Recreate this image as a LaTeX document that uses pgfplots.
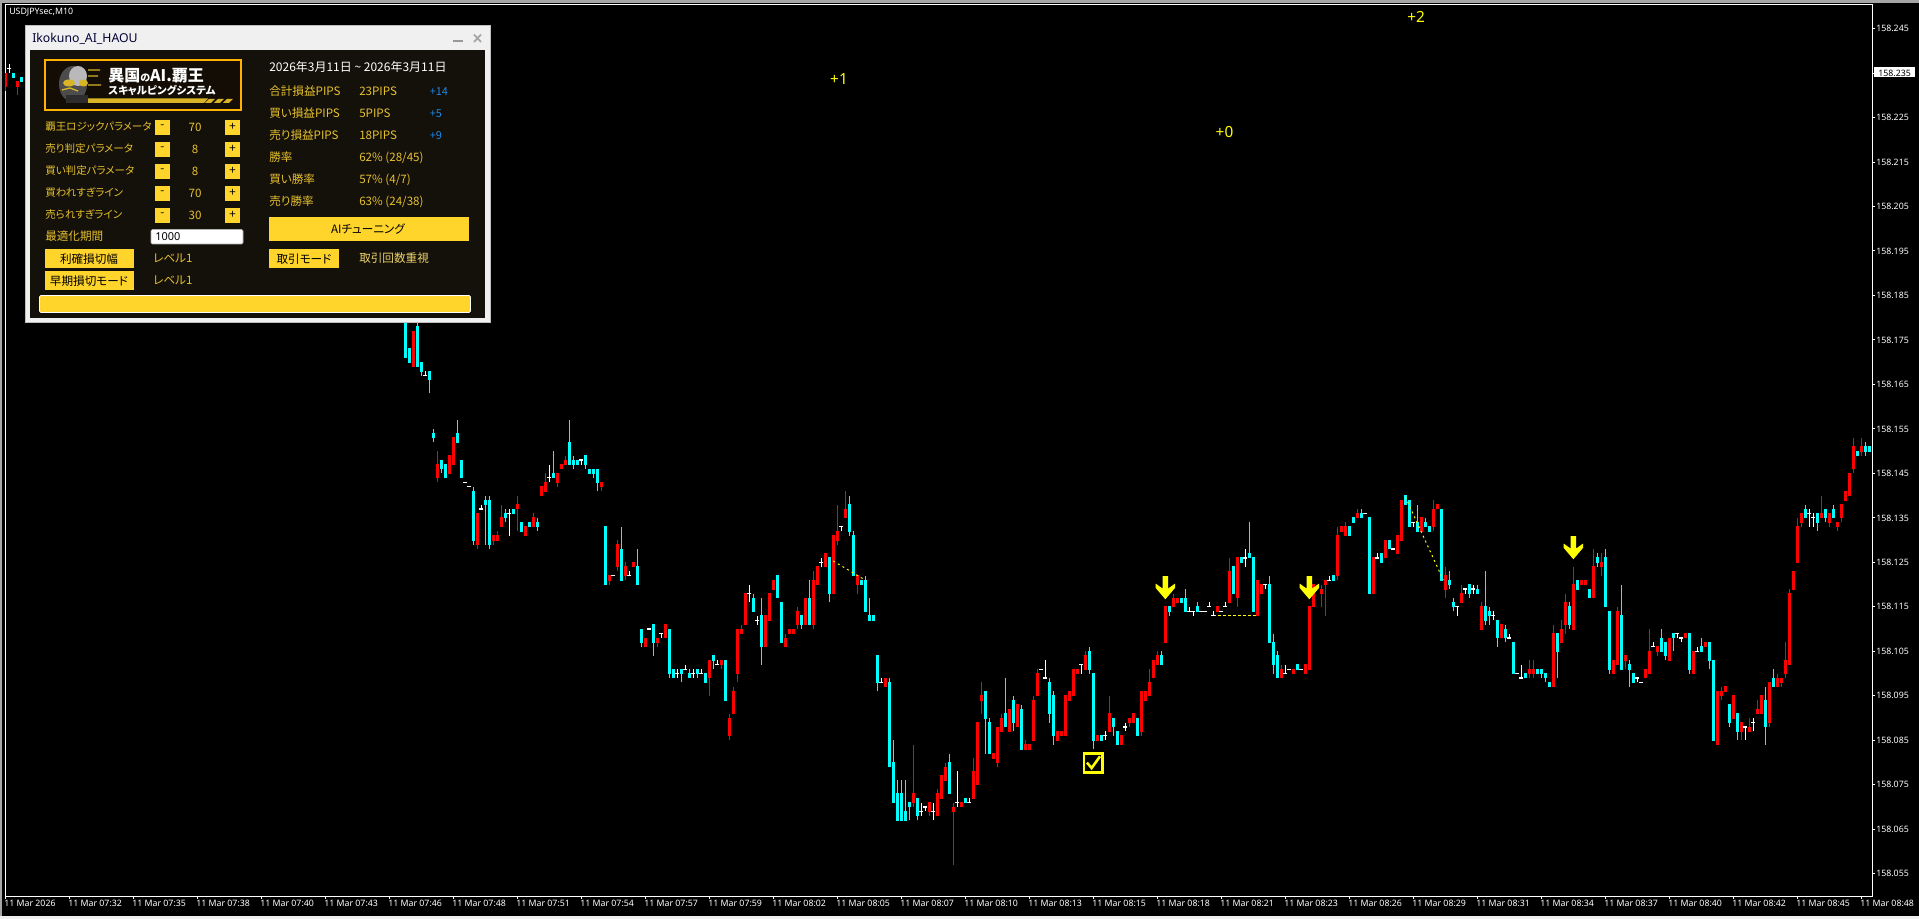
\documentclass[border=0pt]{standalone}
\usepackage{fontspec}
\usepackage{pgfplots}
\usepackage{pgfplotstable}
\pgfplotsset{compat=1.18}
\setmainfont{Noto Sans}
\newfontfamily\cjk[RawFeature={+palt}]{Noto Sans CJK JP}

\definecolor{upbar}{HTML}{FF0000}
\definecolor{downbar}{HTML}{00FFFF}
\definecolor{signal}{HTML}{FFFF00}
\definecolor{gold}{HTML}{FFD42B}
\definecolor{goldtext}{HTML}{E6C22E}
\definecolor{paneldark}{HTML}{14100A}
\definecolor{panelline}{HTML}{F0F0F0}
\definecolor{plusblue}{HTML}{1E88E5}

% prices are in thousandths above 158 (173 is 158.173): x, body low, body high, wick low, wick high
\pgfplotstableread{
x lo hi wl wh
0 232 235 231 235
3 232 233 230 233
102 169 177 169 177
108 144 147 143 150
111 145 149 145 149
112 147 153 147 153
118 129 136 128 136
122 130 131 129 131
123 130 131 130 132
124 133 135 133 138
128 137 138 132 140
130 131 133 131 133
132 133 135 133 136
134 140 142 140 142
135 141 143 141 145
138 143 145 142 145
139 146 147 146 147
140 147 148 147 149
149 142 143 141 143
151 121 122 120 122
153 124 129 123 130
155 122 124 121 125
157 124 125 124 125
160 106 108 106 108
163 107 108 106 108
165 108 111 108 111
176 99 103 95 103
179 102 103 101 103
181 86 90 85 91
182 91 96 91 97
183 100 110 98 110
184 109 110 109 111
185 111 118 111 118
190 106 113 106 113
191 112 118 112 118
192 119 121 119 121
195 106 108 106 109
196 109 110 109 110
197 109 110 109 110
198 111 114 110 115
200 111 117 111 117
202 111 121 110 123
203 120 124 120 124
205 124 127 124 127
207 118 131 118 131
208 130 132 129 138
210 135 137 135 141
213 120 122 118 122
220 97 99 97 99
227 71 73 70 84
231 69 71 68 71
233 68 73 68 74
234 72 77 72 77
235 76 79 76 80
237 69 70 57 71
239 70 71 70 71
242 72 78 72 81
243 75 89 75 89
244 94 95 91 98
247 81 82 81 82
248 80 88 79 88
249 87 90 87 91
251 87 92 87 92
253 88 93 88 93
255 83 84 83 85
256 83 84 83 84
257 85 94 85 95
258 95 100 95 101
263 85 87 85 87
264 86 87 86 87
265 86 95 86 95
266 94 96 94 96
267 95 101 95 101
268 100 101 100 101
270 101 104 101 105
273 85 86 85 86
276 87 91 87 95
279 84 86 84 86
281 89 90 88 90
282 89 91 89 91
284 87 96 86 96
285 94 96 94 96
286 95 98 95 101
287 99 103 99 103
288 102 104 102 105
290 107 115 107 115
292 115 117 115 118
293 116 117 116 117
303 114 115 114 115
306 116 123 116 126
308 117 126 115 126
313 113 121 113 121
314 118 120 118 120
319 99 101 99 102
322 100 101 100 101
325 100 102 100 102
326 101 115 101 115
327 115 120 115 120
329 118 119 115 120
330 120 121 113 121
333 122 131 121 133
334 132 133 132 133
335 131 133 131 134
338 135 136 135 137
342 118 126 118 126
345 126 130 126 130
348 127 131 127 131
349 130 139 130 139
354 132 135 132 135
357 133 137 132 139
358 137 138 137 138
360 119 122 117 124
364 116 118 116 120
369 110 115 110 116
374 108 111 108 111
381 100 101 99 103
382 100 101 99 103
387 97 109 97 111
389 107 110 107 112
390 111 116 109 118
392 110 120 110 124
394 120 121 120 121
395 120 121 120 121
397 117 124 117 128
399 124 125 122 127
402 100 103 100 103
403 102 114 102 115
405 103 104 101 104
410 99 101 99 101
411 100 105 100 110
413 105 106 104 106
416 103 108 103 108
420 108 109 108 109
422 100 105 100 105
425 106 107 106 107
428 84 96 84 96
429 95 96 94 97
430 96 97 96 97
432 90 95 90 95
434 87 89 85 89
436 87 88 87 90
438 91 92 91 94
439 91 95 91 95
441 89 98 88 98
443 97 99 97 100
444 98 99 97 99
445 100 103 99 107
446 102 118 102 119
447 119 123 119 123
448 125 133 125 135
449 134 136 133 136
454 135 136 135 140
456 134 136 133 136
458 133 134 132 134
459 135 138 134 138
460 139 141 139 141
461 140 145 140 145
462 146 151 145 153
464 150 151 149 153
}\upbars

\pgfplotstableread{
x lo hi wl wh
2 234 235 234 235
4 233 234 233 234
100 171 185 171 185
101 170 173 170 173
103 169 178 169 180
104 168 170 167 170
106 166 168 163 168
107 153 154 152 155
109 146 148 145 148
110 144 147 144 147
113 152 154 152 157
114 144 148 144 148
117 130 141 129 142
120 138 139 129 140
121 129 139 128 140
125 135 136 134 137
127 136 137 136 137
129 132 134 132 134
131 133 134 133 134
133 133 134 132 135
137 144 145 144 150
141 147 152 147 157
142 147 148 146 149
143 147 148 147 148
145 147 149 146 149
146 145 146 145 146
147 145 146 144 146
148 143 146 141 146
150 120 133 120 133
154 121 128 121 133
158 120 124 120 128
159 107 110 106 110
162 107 111 104 111
166 100 110 99 110
167 99 101 99 101
169 100 101 98 101
171 99 100 99 101
173 100 101 99 101
175 98 100 98 100
177 103 104 101 104
180 94 103 94 103
187 114 117 114 118
189 106 113 102 117
193 117 122 117 122
194 107 116 107 116
199 111 113 110 113
201 111 117 111 121
206 118 126 116 126
211 132 138 131 140
212 122 131 122 132
214 120 121 120 121
215 114 121 114 122
216 112 113 112 117
217 112 113 112 113
218 98 104 96 104
221 79 98 79 99
222 71 80 71 85
223 67 73 67 76
224 67 73 67 76
225 67 69 67 76
226 70 71 67 71
228 68 72 67 72
236 73 80 73 82
240 71 72 71 72
245 90 96 82 96
246 82 89 82 90
250 88 91 88 99
252 89 94 87 95
254 83 92 83 93
261 91 98 89 99
262 86 95 84 96
271 101 105 100 106
272 85 100 83 100
274 85 86 85 86
277 88 90 86 90
278 84 87 84 87
283 86 90 86 90
289 102 104 102 105
291 114 115 113 115
294 116 117 116 117
295 114 117 114 119
298 114 115 114 116
307 118 124 118 124
309 125 126 125 126
311 126 127 126 134
312 114 126 114 126
316 107 120 107 122
317 102 107 100 109
318 99 104 99 105
323 101 102 101 102
332 121 122 121 122
336 131 133 131 133
337 134 135 134 135
339 135 136 135 137
341 118 135 118 135
344 125 127 125 127
346 128 130 128 130
350 138 140 138 140
351 133 139 133 139
353 132 134 132 138
355 133 134 133 135
356 132 133 132 133
359 121 137 121 137
361 120 121 119 123
362 115 116 114 117
366 118 120 117 120
368 118 119 118 120
370 112 115 111 123
371 113 114 111 115
373 108 112 106 112
375 108 110 107 111
377 100 107 100 107
380 99 100 99 100
383 100 101 100 101
384 100 101 99 101
385 99 100 98 100
386 97 98 97 98
388 105 109 99 109
391 111 115 110 116
393 119 121 119 121
396 117 119 117 119
398 125 126 124 127
400 115 126 115 128
401 101 114 100 114
404 101 113 101 120
406 101 102 97 103
407 98 100 98 100
414 105 108 105 110
415 104 107 103 107
417 108 109 105 109
421 101 109 100 109
424 105 106 105 108
426 103 107 101 107
427 85 103 85 103
431 89 93 88 93
433 87 91 85 91
440 88 94 84 97
442 97 99 97 101
450 135 137 135 138
453 134 136 132 136
455 135 137 134 137
457 135 137 135 138
463 149 150 149 150
465 150 151 149 152
466 150 151 150 151
}\downbars

% flat bars: x, close, wick low, wick high
\pgfplotstableread{
x c wl wh
1 236 235 237
105 167 167 168
115 143 143 143
116 142 142 142
119 137 137 138
126 136 131 137
136 144 143 147
144 148 147 148
152 122 122 122
156 122 122 123
161 110 110 110
164 109 108 109
168 100 99 101
170 101 101 102
172 100 99 101
174 100 100 101
178 102 102 103
186 118 116 120
188 112 111 113
204 125 124 126
209 133 132 133
219 98 98 99
229 69 68 71
230 70 69 70
232 69 67 71
238 71 70 78
241 71 71 72
259 101 101 101
260 99 99 103
269 102 100 102
275 86 85 87
280 88 87 89
296 114 114 115
297 114 113 114
299 114 114 114
300 114 114 114
301 115 115 116
302 113 113 114
304 114 114 114
305 115 115 116
310 126 124 128
315 120 119 120
320 100 100 102
321 101 101 101
324 101 101 101
331 121 121 122
340 136 136 136
343 126 126 127
347 128 128 128
352 134 133 134
363 115 113 115
365 119 118 119
367 119 118 120
372 113 112 114
376 108 108 109
378 100 100 100
379 99 99 102
408 99 98 99
409 98 98 98
412 106 106 107
418 109 108 109
419 108 107 108
423 105 105 106
435 88 85 88
437 89 87 90
451 136 133 137
452 135 133 136
}\flatbars

% arrow with its tip on the point, sizes in screen pixels (0.75pt)
\pgfdeclareplotmark{signalarrow}{%
  \pgfpathmoveto{\pgfqpoint{0pt}{0pt}}%
  \pgfpathlineto{\pgfqpoint{-7.3pt}{8.6pt}}%
  \pgfpathlineto{\pgfqpoint{-7.3pt}{11.8pt}}%
  \pgfpathlineto{\pgfqpoint{-2pt}{8pt}}%
  \pgfpathlineto{\pgfqpoint{-2pt}{17.3pt}}%
  \pgfpathlineto{\pgfqpoint{2pt}{17.3pt}}%
  \pgfpathlineto{\pgfqpoint{2pt}{8pt}}%
  \pgfpathlineto{\pgfqpoint{7.3pt}{11.8pt}}%
  \pgfpathlineto{\pgfqpoint{7.3pt}{8.6pt}}%
  \pgfpathclose
  \pgfusepathqfill}
\pgfdeclareplotmark{signalcheck}{%
  \pgfsetlinewidth{1.8pt}%
  \pgfpathrectanglecorners{\pgfqpoint{-7pt}{-7pt}}{\pgfqpoint{7pt}{7pt}}%
  \pgfusepathqstroke
  \pgfsetlinewidth{1.9pt}%
  \pgfpathmoveto{\pgfqpoint{-4.8pt}{0.3pt}}%
  \pgfpathlineto{\pgfqpoint{-1.3pt}{-3.8pt}}%
  \pgfpathlineto{\pgfqpoint{5pt}{5pt}}%
  \pgfusepathqstroke}

\pgfplotsset{
  bar line/.style 2 args={draw=none,no markers,forget plot,error bars/.cd,y dir=plus,y explicit,error mark=none,error bar style={draw=#1,line width=#2}}
}

\begin{document}
\begin{tikzpicture}
  % window, 1px = 0.75pt, y runs downward
  \begin{scope}[x=0.75pt,y=-0.75pt]
    \path[use as bounding box] (0,0) rectangle (1919,919);
    \fill[black] (0,0) rectangle (1919,919);
    \fill[gray!70] (0,0) rectangle (1919,3);
    \fill[gray!70] (0,0) rectangle (2,919);
    \fill[panelline] (0,916) rectangle (1919,919);
  \end{scope}

  \begin{axis}[
      at={(3.75pt,-672pt)},
      anchor=south west,
      scale only axis,
      width=1400.5pt,
      height=668.6pt,
      xmin=-0.08, xmax=466.74,
      ymin=50, ymax=250.4,
      axis line style={white,line width=0.75pt},
      tick style={white,line width=0.75pt},
      tick align=outside,
      major tick length=2.25pt,
      clip=true,
      xtick pos=lower,
      ytick pos=upper,
      xticklabel pos=lower,
      yticklabel pos=upper,
      xtick={0,16,...,464},
      xticklabels={11 Mar 2026,11 Mar 07:32,11 Mar 07:35,11 Mar 07:38,11 Mar 07:40,11 Mar 07:43,11 Mar 07:46,11 Mar 07:48,11 Mar 07:51,11 Mar 07:54,11 Mar 07:57,11 Mar 07:59,11 Mar 08:02,11 Mar 08:05,11 Mar 08:07,11 Mar 08:10,11 Mar 08:13,11 Mar 08:15,11 Mar 08:18,11 Mar 08:21,11 Mar 08:23,11 Mar 08:26,11 Mar 08:29,11 Mar 08:31,11 Mar 08:34,11 Mar 08:37,11 Mar 08:40,11 Mar 08:42,11 Mar 08:45,11 Mar 08:48},
      ytick={55,65,...,245},
      yticklabels={158.055,158.065,158.075,158.085,158.095,158.105,158.115,158.125,158.135,158.145,158.155,158.165,158.175,158.185,158.195,158.205,158.215,158.225,{},158.245},
      x tick label style={font=\fontsize{6.6}{8}\selectfont,text=white,anchor=north west,inner sep=0pt,xshift=-1pt,yshift=-1pt},
      y tick label style={font=\fontsize{6.6}{8}\selectfont,text=white,anchor=west,inner sep=0pt,xshift=0.5pt},
    ]
    % wicks
    \addplot[bar line={upbar}{0.8pt}]
      table[x=x,y=wl,y error expr=\thisrow{wh}-\thisrow{wl}] {\upbars};
    \addplot[bar line={downbar}{0.8pt}]
      table[x=x,y=wl,y error expr=\thisrow{wh}-\thisrow{wl}] {\downbars};
    \addplot[bar line={white}{0.8pt}]
      table[x=x,y=wl,y error expr=\thisrow{wh}-\thisrow{wl}] {\flatbars};
    % bodies, a little over the price range as the terminal draws them
    \addplot[bar line={upbar}{2.5pt}]
      table[x=x,y expr=\thisrow{lo}-0.1,y error expr=\thisrow{hi}-\thisrow{lo}+0.2] {\upbars};
    \addplot[bar line={downbar}{2.5pt}]
      table[x=x,y expr=\thisrow{lo}-0.1,y error expr=\thisrow{hi}-\thisrow{lo}+0.2] {\downbars};
    \addplot[only marks,mark=-,mark size=1.5pt,white,line width=0.9pt,forget plot]
      table[x=x,y=c] {\flatbars};
    % trade lines
    \addplot[signal,line width=0.75pt,dash pattern=on 2.2pt off 1.5pt] coordinates {(302,113) (313,113)};
    \addplot[signal,line width=0.75pt,dash pattern=on 1.5pt off 2.5pt] coordinates {(207,125.3) (215,121)};
    \addplot[signal,line width=0.75pt,dash pattern=on 1.5pt off 2.5pt] coordinates {(350,139.7) (359.5,121)};
    % signals
    \addplot[only marks,mark=signalarrow,signal,mark options={fill=signal,draw=none}] coordinates {(290,116.7) (326,116.7) (392,125.7)};
    \addplot[only marks,mark=signalcheck,signal] coordinates {(272,79.9)};
  \end{axis}

  \begin{scope}[x=0.75pt,y=-0.75pt]
    \node[anchor=west,inner sep=0pt,text=white,font=\fontsize{6.6}{8}\selectfont] at (9,12.5) {USDJPYsec,M10};
    \foreach \tx/\ty/\ts in {839/79/+1,1224.5/132/+0,1416/17/+2}
      \node[inner sep=0pt,text=signal,font=\fontsize{11.5}{13}\selectfont] at (\tx,\ty) {\ts};
    % current price box
    \fill[white] (1874,67.5) rectangle (1915,77.5);
    \node[anchor=west,inner sep=0pt,text=black,font=\fontsize{6.6}{8}\selectfont] at (1878,73) {158.235};

    % panel
    \fill[panelline] (25,25) rectangle (490,322.5);
    \draw[gray!50,line width=0.4pt] (25,25) rectangle (490,322.5);
    \fill[paneldark] (30,50) rectangle (485,318);
    \node[anchor=west,inner sep=0pt,text=black!80!blue,font=\fontsize{9.2}{10}\selectfont] at (32,38.5) {Ikokuno\_AI\_HAOU};
    \fill[gray!80] (453,40.5) rectangle (463,42);
    \draw[gray!70,line width=1.3pt] (474,34.5) -- (481,42) (481,34.5) -- (474,42);

    % logo
    \draw[fill=black!90!brown,draw=orange!60!yellow,line width=1pt] (45,60) rectangle (241,110);
    \fill[gray!60!black] (73,84) ellipse (14 and 18);
    \fill[gray!55] (78,76) ellipse (9 and 10);
    \fill[gray!35!black] (66,95) rectangle (88,103);
    \fill[gold!85!black] (69,83) ellipse (6 and 3.5) (83.5,83) ellipse (4.5 and 3.5);
    \draw[gold!85!black,line width=1pt] (62,90) -- (70,88) -- (78,91) (88,70) -- (100,70) (88,76) -- (98,76) (88,85) -- (101,85);
    \fill[gold!85!black] (88,98.5) -- (208,98.5) -- (204,103) -- (88,103) -- cycle;
    \fill[gold!85!black] (209,99) -- (215,99) -- (211,103) -- (205,103) -- cycle;
    \fill[gold!85!black] (218,99) -- (224,99) -- (220,103) -- (214,103) -- cycle;
    \fill[gold!85!black] (227,99) -- (233,99) -- (229,103) -- (223,103) -- cycle;
    \node[anchor=west,inner sep=0pt,text=white,font=\cjk\bfseries\fontsize{12}{13}\selectfont] at (108,75.5) {異国{\fontsize{7.5}{8}\selectfont の}AI.覇王};
    \node[anchor=west,inner sep=0pt,text=white,font=\cjk\bfseries\fontsize{7.9}{9}\selectfont] at (108,90) {スキャルピングシステム};

    \tikzset{
      lab/.style={anchor=west,inner sep=0pt,text=goldtext,font=\cjk\fontsize{8.7}{10}\selectfont},
      btn/.style={inner sep=0pt,text=black,font=\cjk\fontsize{8.7}{10}\selectfont}
    }
    % left column
    \foreach \ry/\rl/\rv in {127/覇王ロジックパラメータ/70,149/売り判定パラメータ/8,171/買い判定パラメータ/8,193/買われすぎライン/70,215/売られすぎライン/30}{
      \node[lab,font=\cjk\fontsize{7.9}{10}\selectfont] at (45,\ry) {\rl};
      \fill[gold] (155,\ry-7) rectangle (170,\ry+8);
      \fill[gold] (225,\ry-7) rectangle (240,\ry+8);
      \node[btn] at (162.5,\ry) {-};
      \node[btn] at (232.5,\ry) {+};
      \node[inner sep=0pt,text=goldtext,font=\cjk\fontsize{8.7}{10}\selectfont] at (195,\ry) {\rv};
    }
    \node[lab] at (45,236.5) {最適化期間};
    \draw[fill=white,draw=gray!60,line width=0.5pt,rounded corners=1pt] (151,229.5) rectangle (243,244);
    \node[anchor=west,inner sep=0pt,text=black,font=\fontsize{8.2}{9}\selectfont] at (155,237) {1000};
    \fill[gold] (44.5,249.5) rectangle (133.5,268.5);
    \node[btn] at (89,259) {利確損切幅};
    \fill[gold] (44.5,271.5) rectangle (133.5,290.5);
    \node[btn] at (89,281) {早期損切モード};
    \node[lab] at (153,258) {レベル1};
    \node[lab] at (153,280) {レベル1};
    \draw[fill=gold,draw=white,line width=0.5pt,rounded corners=1pt] (39.5,295.5) rectangle (470.5,312.5);

    % right column
    \node[anchor=west,inner sep=0pt,text=white,font=\cjk\fontsize{9}{10}\selectfont] at (269,67) {2026年3月11日 \textasciitilde{} 2026年3月11日};
    \foreach \ry/\rl/\rv in {91.5/合計損益PIPS/23PIPS,113.5/買い損益PIPS/5PIPS,135.5/売り損益PIPS/18PIPS,157.5/勝率/{62\% (28/45)},179.5/買い勝率/{57\% (4/7)},201.5/売り勝率/{63\% (24/38)}}{
      \node[lab] at (269,\ry) {\rl};
      \node[lab] at (359,\ry) {\rv};
    }
    \foreach \ry/\rd in {92/+14,114/+5,136/+9}
      \node[anchor=west,inner sep=0pt,text=plusblue,font=\cjk\fontsize{8.2}{9}\selectfont] at (429.5,\ry) {\rd};
    \fill[gold] (269,217.5) rectangle (469,241.5);
    \node[btn] at (368,229) {AIチューニング};
    \fill[gold] (269,249.5) rectangle (339,268.5);
    \node[btn] at (304,259) {取引モード};
    \node[lab,text=goldtext!70!white] at (359,258) {取引回数重視};
  \end{scope}
\end{tikzpicture}
\end{document}
